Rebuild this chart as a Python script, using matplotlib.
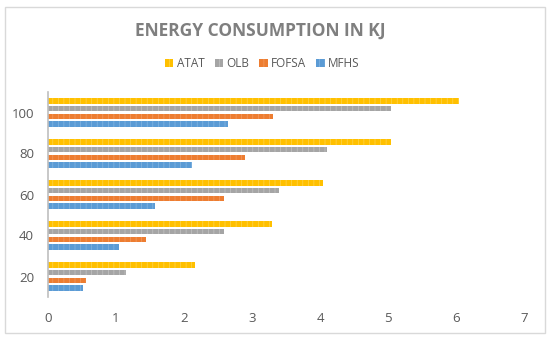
import numpy as np
import matplotlib.pyplot as plt
from matplotlib.patches import Rectangle

plt.rcParams['font.family'] = ['Open Sans', 'DejaVu Sans']
plt.rcParams['hatch.linewidth'] = 0.5

# data
categories = ['20', '40', '60', '80', '100']
series = ['ATAT', 'OLB', 'FOFSA', 'MFHS']
atat = [2.16, 3.30, 4.04, 5.04, 6.04]
olb = [1.15, 2.59, 3.40, 4.11, 5.04]
fofsa = [0.56, 1.44, 2.59, 2.89, 3.31]
mfhs = [0.52, 1.05, 1.58, 2.12, 2.65]
colors = ['#FFC000', '#A5A5A5', '#ED7D31', '#5B9BD5']
hatch_colors = ['#FFD54F', '#C4C4C4', '#F39C63', '#85B6E2']

fig = plt.figure(figsize=(5.5, 3.4), dpi=100)
ax = fig.add_axes([48 / 550, 43 / 340, 476 / 550, 205 / 340])

# chart frame
fig.patches.append(Rectangle((5 / 550, 7 / 340), 540 / 550, 326 / 340,
                             transform=fig.transFigure, facecolor='none',
                             edgecolor='#D9D9D9', linewidth=1))

y = np.arange(len(categories))
step = 0.188
offsets = [1.5 * step, 0.5 * step, -0.5 * step, -1.5 * step]
handles = []
for vals, name, c, hc, off in zip([atat, olb, fofsa, mfhs], series, colors, hatch_colors, offsets):
    b = ax.barh(y + off, vals, height=0.135, color=c, edgecolor=hc,
                linewidth=0, hatch='|||', label=name)
    handles.append(b)

ax.set_xlim(0, 7)
ax.set_ylim(-0.5, 4.5)
ax.set_yticks(y)
ax.set_yticklabels(categories)
ax.set_xticks(range(8))
ax.tick_params(length=0, labelsize=9.5, colors='#595959')
ax.tick_params(axis='x', pad=11)
ax.tick_params(axis='y', pad=10)
for s in ['top', 'right', 'bottom']:
    ax.spines[s].set_visible(False)
ax.spines['left'].set_color('#BFBFBF')
ax.spines['left'].set_linewidth(1.2)

fig.text(0.474, 0.91, 'ENERGY CONSUMPTION IN KJ',
         ha='center', va='center', fontsize=12.5, fontweight='bold', color='#7F7F7F')

leg = fig.legend(handles=handles, loc='center', bbox_to_anchor=(0.477, 0.812),
                 ncol=4, frameon=False, fontsize=8.5, handlelength=0.7,
                 handleheight=0.7, handletextpad=0.3, columnspacing=0.85)
for t in leg.get_texts():
    t.set_color('#595959')

fig.savefig('out.png', dpi=100)
